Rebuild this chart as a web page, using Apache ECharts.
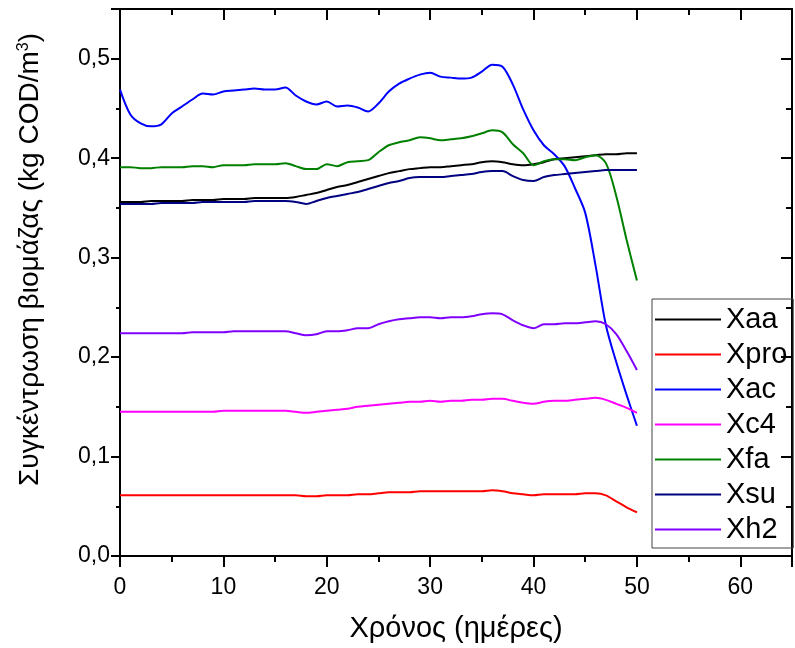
<!DOCTYPE html>
<html>
<head>
<meta charset="utf-8">
<script src="https://cdn.jsdelivr.net/npm/echarts@6/dist/echarts.min.js"></script>
<style>
  html, body { margin: 0; padding: 0; background: #ffffff; }
  #chart { width: 795px; height: 648px; }
</style>
</head>
<body>
<div id="chart"></div>
<script>
// Simulation time (days)
const days = [0,1,2,3,4,5,6,7,8,9,10,11,12,13,14,15,16,17,18,19,20,21,22,23,24,25,26,27,28,29,30,31,32,33,34,35,36,37,38,39,40,41,42,43,44,45,46,47,48,49,50];

// Biomass concentrations (kg COD/m3) per bacterial group
const xaa = [0.356,0.356,0.356,0.357,0.357,0.357,0.357,0.358,0.358,0.358,0.359,0.359,0.359,0.360,0.360,0.360,0.360,0.361,0.363,0.365,0.368,0.371,0.373,0.376,0.379,0.382,0.385,0.387,0.389,0.390,0.391,0.391,0.392,0.393,0.394,0.396,0.397,0.396,0.394,0.393,0.394,0.396,0.399,0.400,0.401,0.402,0.403,0.404,0.404,0.405,0.405];
const xpro = [0.061,0.061,0.061,0.061,0.061,0.061,0.061,0.061,0.061,0.061,0.061,0.061,0.061,0.061,0.061,0.061,0.061,0.061,0.060,0.060,0.061,0.061,0.061,0.062,0.062,0.063,0.064,0.064,0.064,0.065,0.065,0.065,0.065,0.065,0.065,0.065,0.066,0.065,0.063,0.062,0.061,0.062,0.062,0.062,0.062,0.063,0.063,0.061,0.055,0.049,0.044];
const xac = [0.469,0.444,0.435,0.432,0.434,0.445,0.452,0.459,0.465,0.464,0.467,0.468,0.469,0.470,0.469,0.469,0.471,0.463,0.457,0.454,0.457,0.452,0.453,0.451,0.447,0.455,0.467,0.475,0.480,0.484,0.486,0.482,0.481,0.480,0.481,0.487,0.494,0.492,0.474,0.449,0.428,0.413,0.404,0.392,0.370,0.345,0.292,0.232,0.195,0.162,0.131];
const xc4 = [0.145,0.145,0.145,0.145,0.145,0.145,0.145,0.145,0.145,0.145,0.146,0.146,0.146,0.146,0.146,0.146,0.146,0.145,0.144,0.145,0.146,0.147,0.148,0.150,0.151,0.152,0.153,0.154,0.155,0.155,0.156,0.155,0.156,0.156,0.157,0.157,0.158,0.158,0.156,0.154,0.153,0.155,0.156,0.156,0.157,0.158,0.159,0.157,0.153,0.149,0.144];
const xfa = [0.391,0.391,0.390,0.390,0.391,0.391,0.391,0.392,0.392,0.391,0.393,0.393,0.393,0.394,0.394,0.394,0.395,0.392,0.389,0.389,0.394,0.392,0.396,0.397,0.398,0.406,0.413,0.416,0.418,0.421,0.420,0.418,0.419,0.420,0.422,0.425,0.428,0.426,0.414,0.405,0.393,0.397,0.399,0.399,0.398,0.401,0.403,0.395,0.362,0.318,0.277];
const xsu = [0.354,0.354,0.354,0.354,0.355,0.355,0.355,0.355,0.356,0.356,0.356,0.356,0.356,0.357,0.357,0.357,0.357,0.356,0.354,0.357,0.360,0.362,0.364,0.366,0.369,0.372,0.375,0.377,0.380,0.381,0.381,0.381,0.382,0.383,0.384,0.386,0.387,0.387,0.382,0.378,0.377,0.381,0.383,0.384,0.385,0.386,0.387,0.388,0.388,0.388,0.388];
const xh2 = [0.224,0.224,0.224,0.224,0.224,0.224,0.224,0.225,0.225,0.225,0.225,0.226,0.226,0.226,0.226,0.226,0.226,0.224,0.222,0.223,0.226,0.226,0.227,0.229,0.229,0.233,0.236,0.238,0.239,0.240,0.240,0.239,0.240,0.240,0.241,0.243,0.244,0.243,0.237,0.232,0.229,0.233,0.233,0.234,0.234,0.235,0.236,0.233,0.223,0.206,0.187];

const seriesNames = ['Xaa', 'Xpro', 'Xac', 'Xc4', 'Xfa', 'Xsu', 'Xh2'];
const seriesValues = [xaa, xpro, xac, xc4, xfa, xsu, xh2];
const seriesColors = ['#000000', '#ff0000', '#0000ff', '#ff00ff', '#008000', '#000080', '#8000ff'];

// Axis ranges
const xMin = 0, xMax = 65, xStep = 10;
const yMin = 0, yMax = 0.55, yStep = 0.1;

const FONT = '"Liberation Sans", Arial, sans-serif';
const AX = { color: '#000000', width: 2 };

const chart = echarts.init(document.getElementById('chart'), null, { renderer: 'canvas' });

function frameAxis(extra) {
  return Object.assign({
    type: 'value',
    splitLine: { show: false },
    axisLine: { show: true, onZero: false, lineStyle: AX },
    axisTick: { show: true, length: 11, lineStyle: AX },
    minorTick: { show: true, splitNumber: 2, length: 6, lineStyle: AX },
    axisLabel: { show: false }
  }, extra);
}

const option = {
  animation: false,
  backgroundColor: '#ffffff',
  textStyle: { fontFamily: FONT },
  grid: { left: 120, top: 9, right: -10, bottom: 89 },
  legend: {
    orient: 'vertical',
    left: 652,
    top: 299,
    icon: 'rect',
    itemWidth: 66,
    itemHeight: 2,
    itemGap: 6,
    padding: [6, 6, 4, 3],
    borderColor: '#444444',
    borderWidth: 1,
    textStyle: { fontSize: 29, color: '#000000', fontFamily: FONT, lineHeight: 29 },
    data: seriesNames
  },
  xAxis: [
    frameAxis({
      position: 'bottom',
      min: xMin, max: xMax, interval: xStep,
      axisLabel: {
        show: true, fontSize: 23, color: '#000000', margin: 20, fontFamily: FONT,
        formatter: v => (v % xStep === 0 ? String(v) : '')
      },
      name: 'Χρόνος (ημέρες)',
      nameLocation: 'middle',
      nameGap: 58,
      nameTextStyle: { fontSize: 29, color: '#000000', fontFamily: FONT }
    }),
    frameAxis({
      position: 'top',
      min: xMin, max: xMax, interval: xStep,
      axisTick: { show: true, inside: true, length: 11, lineStyle: AX },
      minorTick: { show: true, splitNumber: 2, length: 6, lineStyle: AX }
    })
  ],
  yAxis: [
    frameAxis({
      position: 'left',
      min: yMin, max: yMax, interval: yStep,
      axisTick: { show: true, length: 9, lineStyle: AX },
      minorTick: { show: true, splitNumber: 2, length: 4, lineStyle: AX },
      axisLabel: {
        show: true, fontSize: 23, color: '#000000', margin: 10, fontFamily: FONT,
        formatter: v => (Math.abs(v - yMax) < 1e-9 ? '' : v.toFixed(1).replace('.', ','))
      },
      name: 'Συγκέντρωση βιομάζας (kg COD/m{s|3})',
      nameLocation: 'middle',
      nameGap: 76,
      nameTextStyle: {
        fontSize: 28, color: '#000000', fontFamily: FONT,
        padding: [0, 0, 0, 46],
        rich: { s: { fontSize: 16, color: '#000000', fontFamily: FONT, verticalAlign: 'top' } }
      }
    }),
    frameAxis({
      position: 'right',
      min: yMin, max: yMax, interval: yStep,
      axisTick: { show: true, inside: true, length: 11, lineStyle: AX },
      minorTick: { show: true, splitNumber: 2, length: 6, lineStyle: AX }
    })
  ],
  series: seriesNames.map((name, k) => ({
    type: 'line',
    name: name,
    xAxisIndex: 0,
    yAxisIndex: 0,
    data: days.map((d, i) => [d, seriesValues[k][i]]),
    symbol: 'none',
    smooth: 0.3,
    lineStyle: { color: seriesColors[k], width: 2 },
    itemStyle: { color: seriesColors[k] }
  }))
};

chart.setOption(option);
</script>
</body>
</html>
